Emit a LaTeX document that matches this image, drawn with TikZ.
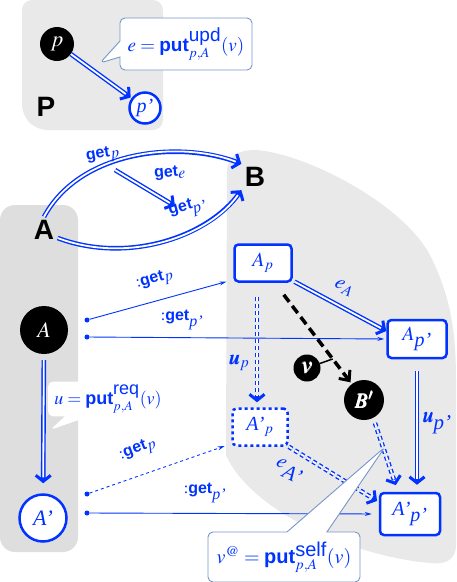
\RequirePackage{fix-cm}
\documentclass[tikz,border=0pt]{standalone}
\usepackage{mathptmx}
\usepackage{fontspec}
\setmainfont{Liberation Serif}
\setsansfont{Liberation Sans}
\usepackage{bm}
\usetikzlibrary{arrows.meta,shapes.callouts,positioning}

\definecolor{linkblue}{RGB}{0,51,255}
\definecolor{regiongray}{RGB}{233,233,233}
\definecolor{leftgray}{RGB}{222,222,222}
\definecolor{noteblue}{RGB}{120,150,200}

\newcommand{\opget}{\textsf{\textbf{get}}}
\newcommand{\opput}{\textsf{\textbf{put}}}

\begin{document}
\begin{tikzpicture}[x=1pt,y=-1pt,
    blob/.style={circle,fill=black,text=white,inner sep=0pt},
    ring/.style={circle,draw=linkblue,line width=2.5pt,fill=white,text=linkblue,inner sep=0pt},
    obj/.style={draw=linkblue,line width=2.5pt,rounded corners=4pt,fill=white,text=linkblue,
        inner sep=0pt,font=\fontsize{20}{22}\selectfont},
    dbl/.style 2 args={draw=linkblue,line width=4.6pt,shorten <=#1,shorten >=#2,
        -{Straight Barb[length=6pt,width=15pt,line width=3pt]},
        postaction={draw=white,line width=1.8pt,-,shorten <=#1,shorten >=#2+6pt}},
    dbldash/.style 2 args={dbl={#1}{#2},dash pattern=on 4pt off 3pt},
    getarr/.style={linkblue,line width=0.9pt,-{Stealth[length=7pt,width=4pt]}},
    dot/.style={circle,fill=linkblue,inner sep=0pt,minimum size=5pt},
    lbl/.style={text=linkblue,font=\fontsize{16}{18}\selectfont},
    note/.style={rectangle callout,draw=noteblue,fill=white,rounded corners=5pt,line width=0.9pt,
        text=linkblue,font=\fontsize{19}{21}\selectfont},
    big/.style={font=\fontsize{28}{30}\selectfont\sffamily\bfseries}
]
\useasboundingbox (0,0) rectangle (457,582);

% regions
\fill[regiongray,rounded corners=10pt] (22,0) -- (163,0) -- (163,130) -- (37,130) -- (22,115) -- cycle;
\fill[leftgray,rounded corners=15pt] (0,205) rectangle (78,552);
\fill[regiongray] (226,455) -- (227,172) .. controls (227,156) and (238,150) .. (255,150)
    .. controls (300,152) and (400,200) .. (430,255) .. controls (450,295) and (456,330) .. (456,380)
    -- (456,545) .. controls (456,560) and (445,565) .. (430,563)
    .. controls (350,556) and (250,510) .. (226,455) -- cycle;

% category P
\node[blob,minimum size=34pt,font=\fontsize{22}{24}\selectfont] (p) at (57,44) {$p$};
\node[ring,minimum size=31pt,font=\fontsize{20}{22}\selectfont] (pq) at (145,108) {\textit{p'}};
\node[big] (P) at (46,107) {P};
\draw[dbl={0pt}{1pt}] (p) -- (pq);
\node[note,minimum width=132pt,minimum height=52pt,callout pointer width=16pt,
    callout absolute pointer={(100,63)}] (upd)
    at (186,44) {$e = \opput^{\textsf{upd}}_{p,A}(v)$};

% A and B
\node[big] (Abig) at (44,230) {A};
\node[big] (Bbig) at (255,177) {B};
\draw[dbl={0pt}{0pt}] (Abig.north) .. controls (80,150) and (180,140) .. (Bbig.north west);
\draw[dbl={0pt}{0pt}] ([yshift=-8pt]Abig.east) .. controls (130,265) and (210,235) .. (Bbig.south west);
\coordinate (ge1) at (115,170);
\coordinate (ge2) at (175,206);
\draw[dbl={0pt}{0pt}] (ge1) -- (ge2);
\node[lbl,rotate=10] (getp) at (103,155) {\opget$_{\textstyle p}$};
\node[lbl,rotate=5] (gete) at (170,173) {\opget$_{\textstyle e}$};
\node[lbl,rotate=15] (getq) at (188,209) {\opget$_{\textstyle \textit{p'}}$};

% objects
\node[blob,minimum size=48pt,font=\fontsize{22}{24}\selectfont] (A) at (44,330) {$A$};
\node[ring,minimum size=47pt,font=\fontsize{22}{24}\selectfont] (Aq) at (43,518) {\textit{A'}};
\node[obj,minimum width=57pt,minimum height=37pt] (Ap) at (263,263) {$A_p$};
\node[obj,minimum width=59pt,minimum height=38pt] (Apq) at (417,339) {$A_{\textit{p'}}$};
\node[obj,dashed,minimum width=55pt,minimum height=37pt] (Aqp) at (260,427) {\textit{A'}$_p$};
\node[obj,minimum width=60pt,minimum height=42pt] (Aqq) at (410,514) {\textit{A'}$_{\textit{p'}}$};
\node[blob,minimum size=40pt,font=\fontsize{21}{23}\selectfont] (Bq) at (364,400) {$\bm{B'}$};
\node[blob,minimum size=27pt,font=\fontsize{24}{26}\selectfont] (v) at (307,368) {$\bm{v}$};

% get links
\foreach \n/\y in {d1/320,d2/337,d3/494,d4/513}
    \node[dot] (\n) at (87,\y) {};
\draw[getarr,shorten >=7pt] (d1) -- ([yshift=3pt]Ap.south west);
\draw[getarr,shorten >=2pt] (d2) -- (Apq.west);
\draw[getarr,dashed,shorten >=7pt] (d3) -- ([yshift=3pt]Aqp.south west);
\draw[getarr,shorten >=7pt] (d4) -- (Aqq.west);
\node[lbl,rotate=16] (l1) at (155,280) {:\opget$_{\textstyle p}$};
\node[lbl] (l2) at (182,320) {:\opget$_{\textstyle \textit{p'}}$};
\node[lbl,rotate=21] (l3) at (138,450) {:\opget$_{\textstyle p}$};
\node[lbl] (l4) at (205,493) {:\opget$_{\textstyle \textit{p'}}$};

% updates
\draw[dbl={6pt}{10pt}] (A) -- (Aq);
\node[note,draw=none,minimum width=120pt,minimum height=24pt,callout pointer width=24pt,
    callout absolute pointer={(50,430)}] (req)
    at (108,399) {\fontsize{18}{20}\selectfont$u = \opput^{\textsf{req}}_{p,A}(v)$};
\draw[dbl={2pt}{0pt}] ([yshift=2pt]Ap.south east) -- ([yshift=8pt]Apq.west);
\node[lbl,rotate=-25,font=\fontsize{21}{23}\selectfont] (eA) at (344,288) {$e_A$};
\draw[dbldash={14pt}{5pt}] ([xshift=-6pt]Ap.south) -- ([xshift=-6pt]Ap.south |- Aqp.north);
\node[lbl,font=\fontsize{21}{23}\selectfont] (up) at (239,363) {$\bm{u}_p$};
\draw[dbl={12pt}{7pt}] (Apq.south) -- (Apq.south |- Aqq.north);
\node[lbl,font=\fontsize{21}{23}\selectfont] (uq) at (437,423) {$\bm{u}_{\textit{p'}}$};
\draw[dbldash={0pt}{2pt}] (Aqp.south east) -- ([yshift=12pt]Aqq.west);
\node[lbl,rotate=-25,font=\fontsize{21}{23}\selectfont] (eAq) at (289,471) {$e_{\textit{A'}}$};
\draw[dbldash={3pt}{7pt}] ([xshift=10pt]Bq.south) -- ([xshift=-12pt]Aqq.north);

% view
\draw[black,line width=3.5pt,dash pattern=on 9pt off 5pt,
    -{Straight Barb[length=8pt,width=14pt,line width=3pt]},shorten >=2pt]
    ([xshift=-9pt,yshift=-12pt]Ap.south east) -- coordinate[pos=0.72] (vpt) (Bq);
\draw[line width=1.5pt] (v) -- (vpt);

\node[note,minimum width=152pt,minimum height=50pt,callout pointer width=40pt,
    callout absolute pointer={(385,447)}] (self)
    at (284,557) {\fontsize{20}{22}\selectfont$v^{@} = \opput^{\textsf{self}}_{p,A}(v)$};
\end{tikzpicture}
\end{document}
